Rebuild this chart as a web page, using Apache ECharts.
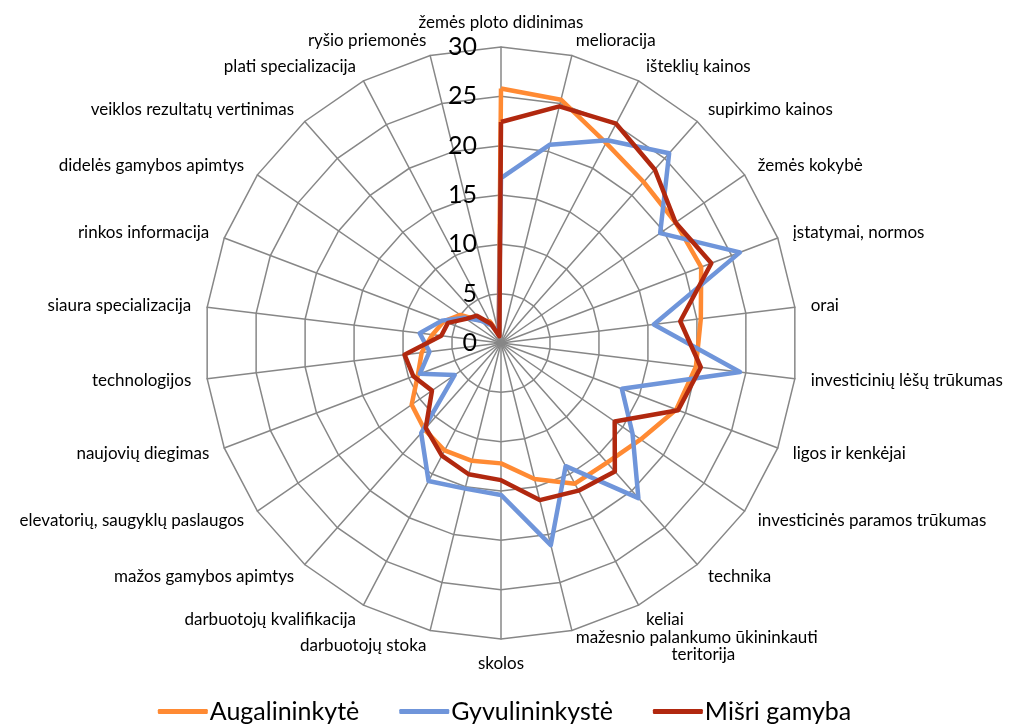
<!DOCTYPE html>
<html>
<head>
<meta charset="utf-8">
<script src="https://cdn.jsdelivr.net/npm/echarts@6/dist/echarts.min.js"></script>
<style>
  html, body { margin: 0; padding: 0; background: #fff; }
  #chart { width: 1009px; height: 726px; }
</style>
</head>
<body>
<div id="chart"></div>
<script>
// clockwise from the top, as in the source chart
var indicators = [
  'žemės ploto didinimas', 'melioracija', 'išteklių kainos', 'supirkimo kainos',
  'žemės kokybė', 'įstatymai, normos', 'orai', 'investicinių lėšų trūkumas',
  'ligos ir kenkėjai', 'investicinės paramos trūkumas', 'technika', 'keliai',
  'mažesnio palankumo ūkininkauti\n                      teritorija', 'skolos',
  'darbuotojų stoka', 'darbuotojų kvalifikacija', 'mažos gamybos apimtys',
  'elevatorių, saugyklų paslaugos', 'naujovių diegimas', 'technologijos',
  'siaura specializacija', 'rinkos informacija', 'didelės gamybos apimtys',
  'veiklos rezultatų vertinimas', 'plati specializacija', 'ryšio priemonės'
];

var seriesNames = ['Augalininkytė', 'Gyvulininkystė', 'Mišri gamyba'];
var seriesColors = ['#FF8A33', '#6F95DA', '#B1280F'];

var augalininkyste = [25.8, 25.4, 22.9, 21.8, 21.5, 21.7, 20.4, 19.9, 19.0, 17.2, 16.2, 16.1, 14.2,
  12.2, 12.3, 12.3, 11.7, 11.0, 9.0, 8.1, 7.0, 6.2, 5.0, 3.0, 2.5, 1.0];
var gyvulininkyste = [16.7, 20.7, 23.2, 25.7, 19.6, 25.9, 15.6, 24.4, 13.1, 16.2, 21.0, 14.1, 21.1,
  15.4, 15.2, 15.8, 12.2, 5.7, 8.8, 7.3, 8.3, 6.4, 4.5, 3.0, 2.0, 1.0];
var misri = [22.4, 24.7, 25.1, 23.5, 21.5, 22.8, 18.3, 20.4, 19.2, 14.0, 17.4, 16.9, 16.4,
  13.9, 13.7, 12.9, 11.5, 8.5, 9.5, 9.85, 6.1, 5.75, 4.3, 3.7, 2.2, 0.7];

var font = 'Lato, "Open Sans", sans-serif';

// echarts radar runs counter-clockwise: keep the first axis, reverse the rest
function cw(arr) {
  return [arr[0]].concat(arr.slice(1).reverse());
}

var chart = echarts.init(document.getElementById('chart'));

var indicatorList = cw(indicators).map(function (name, i) {
  var ind = { name: name, min: 0, max: 30 };
  if (i === 0) {
    ind.axisLabel = { show: true };
  }
  return ind;
});

var option = {
  backgroundColor: '#fff',
  animation: false,
  legend: {
    bottom: -3,
    left: 'center',
    icon: 'roundRect',
    itemWidth: 50,
    itemHeight: 5,
    itemGap: 40,
    data: seriesNames,
    textStyle: { color: '#000', fontSize: 25, fontFamily: font, padding: [0, 0, 0, -3] }
  },
  radar: {
    center: [501, 343],
    radius: 296,
    shape: 'polygon',
    splitNumber: 6,
    startAngle: 90,
    nameGap: 16,
    axisName: { color: '#000', fontSize: 17, fontFamily: font },
    axisLine: { lineStyle: { color: '#878787', width: 1.5 } },
    splitLine: { lineStyle: { color: '#878787', width: 1.5 } },
    splitArea: { show: false },
    axisTick: { show: false },
    axisLabel: {
      show: false,
      color: '#000',
      fontSize: 25,
      fontFamily: font,
      margin: 24
    },
    indicator: indicatorList
  },
  series: [{
    type: 'radar',
    symbol: 'none',
    data: [
      { name: seriesNames[0], value: cw(augalininkyste) },
      { name: seriesNames[1], value: cw(gyvulininkyste) },
      { name: seriesNames[2], value: cw(misri) }
    ].map(function (d, i) {
      d.lineStyle = { color: seriesColors[i], width: 4.5 };
      d.itemStyle = { color: seriesColors[i] };
      return d;
    })
  }]
};

chart.setOption(option);
</script>
</body>
</html>
